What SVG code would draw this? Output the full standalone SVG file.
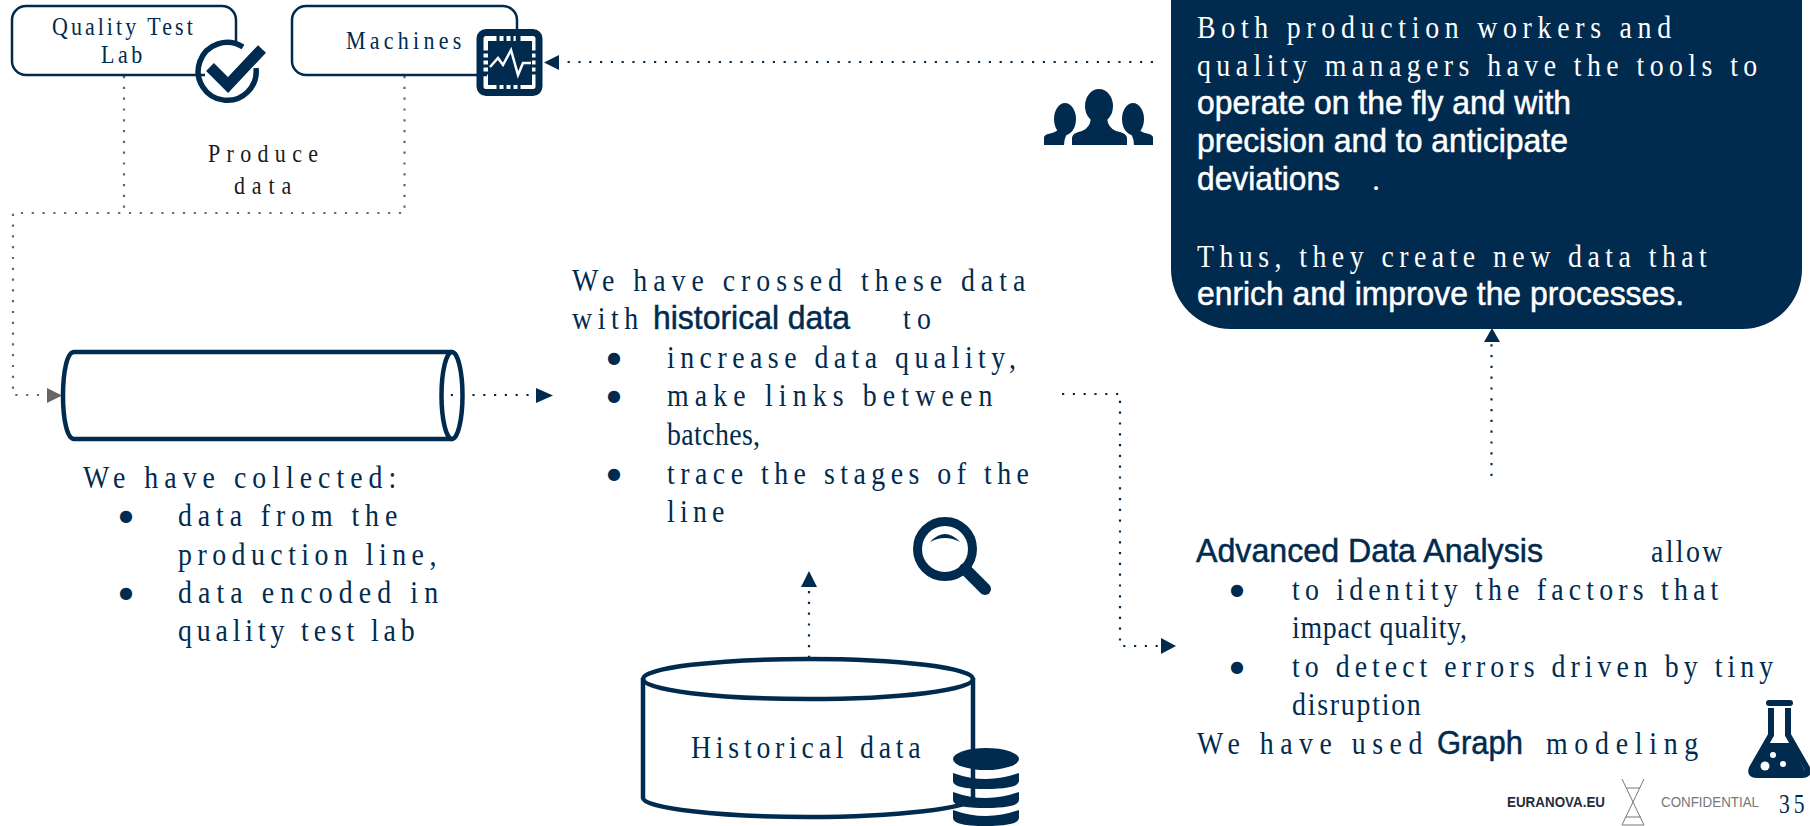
<svg xmlns="http://www.w3.org/2000/svg" width="1810" height="826" viewBox="0 0 1810 826">
<style>
text{font-family:"Liberation Serif","Times New Roman",serif;font-size:32px;fill:#002b4f}
.s{font-size:25px}
.k{fill:#1a1a1a}
.w{fill:#fff}
.b{font-family:"Liberation Sans",Arial,sans-serif;font-size:33px;stroke:#002b4f;stroke-width:.5}
.bw{font-family:"Liberation Sans",Arial,sans-serif;font-size:33px;fill:#fff;stroke:#fff;stroke-width:.5}
.d{font-family:"DejaVu Sans",sans-serif;font-size:16px;text-anchor:middle}
.line{fill:none;stroke:#002b4f;stroke-width:2.5}
.thick{fill:none;stroke:#002b4f;stroke-width:4.500}
.dark{fill:#002b4f}
.dots{fill:none;stroke:#002b4f;stroke-width:2.2;stroke-dasharray:2.2 8.6}
.gdots{fill:none;stroke:#666;stroke-width:2.2;stroke-dasharray:2.2 8.6}
</style>
<g id="connectors">
<path class="gdots" d="M124 76V213"/>
<path class="gdots" d="M404.500 76V213H13V395H46"/>
<path class="dots" d="M440 395H534"/>
<path class="dots" d="M1153 62H560"/>
<path class="dots" d="M809 658V590"/>
<path class="dots" d="M1062 394H1120V646H1160"/>
<path class="dots" d="M1491.500 476V344"/>
<polygon points="47,388 62,395.500 47,403" fill="#666"/>
<polygon class="dark" points="536,388 553,395.500 536,403"/>
<polygon class="dark" points="559,55 544,62.500 559,70"/>
<polygon class="dark" points="801,587 809,571 817,587"/>
<polygon class="dark" points="1161,638 1176,646 1161,654"/>
<polygon class="dark" points="1484,342 1492,328 1500,342"/>
</g>
<g id="quality-test-lab">
<path class="line" d="M205 75H26A14 14 0 0 1 12 61V20A14 14 0 0 1 26 6H222A14 14 0 0 1 236 20V45"/>
<text class="s" transform="matrix(.88 0 0 1 52 35)" textLength="160">Quality Test</text>
<text class="s" transform="matrix(.88 0 0 1 101 63)" textLength="47">Lab</text>
<path d="M243 47A29 29 0 1 0 256 68" fill="none" stroke="#002b4f" stroke-width="5.500"/>
<path d="M210 67L228 85L262 49" fill="none" stroke="#002b4f" stroke-width="11"/>
</g>
<g id="machines">
<rect x="480" y="32.500" width="59" height="60" rx="6" fill="#fff" stroke="#002b4f" stroke-width="7"/>
<path d="M483 52h6M483 59h6M483 66h6M483 73h6M536 52h-5M536 59h-5M536 66h-5M536 73h-5M498 36v6M505 36v6M512 36v6M519 36v6M498 89v-6M505 89v-6M512 89v-6M519 89v-6" stroke="#002b4f" stroke-width="3" fill="none"/>
<rect class="dark" x="488" y="41" width="44" height="44"/>
<polyline points="490,67 498,58 503,65 511,50 518,75 523,63 531,63" fill="none" stroke="#fff" stroke-width="2.500"/>
<path class="line" d="M487 75H306A14 14 0 0 1 292 61V20A14 14 0 0 1 306 6H503A14 14 0 0 1 517 20V42"/>
<text class="s" transform="matrix(.88 0 0 1 346 49)" textLength="131">Machines</text>
</g>
<g id="produce-data">
<text class="s k" transform="matrix(.88 0 0 1 208 162)" textLength="125">Produce</text>
<text class="s k" transform="matrix(.88 0 0 1 234 194)" textLength="65">data</text>
</g>
<g id="pipe">
<path class="thick" d="M452 352H74C67 352 63 372 63 395.500S67 439 74 439H452"/>
<ellipse class="thick" cx="452" cy="395.500" rx="10.500" ry="43.500"/>
</g>
<g id="collected">
<text transform="matrix(.87 0 0 1 83 488)" textLength="360">We have collected:</text>
<text class="d" x="126" y="521">●</text>
<text transform="matrix(.87 0 0 1 178 526)" textLength="252">data from the</text>
<text transform="matrix(.87 0 0 1 178 565)" textLength="297">production line,</text>
<text class="d" x="126" y="598">●</text>
<text transform="matrix(.87 0 0 1 178 603)" textLength="299">data encoded in</text>
<text transform="matrix(.87 0 0 1 178 641)" textLength="272">quality test lab</text>
</g>
<g id="crossed">
<text transform="matrix(.87 0 0 1 572 291)" textLength="521">We have crossed these data</text>
<text transform="matrix(.87 0 0 1 572 329)" textLength="76">with</text>
<text class="b" x="653" y="329" textLength="197" lengthAdjust="spacingAndGlyphs">historical data</text>
<text transform="matrix(.87 0 0 1 903 329)" textLength="32">to</text>
<text class="d" x="614" y="363">●</text>
<text transform="matrix(.87 0 0 1 667 368)" textLength="401">increase data quality,</text>
<text class="d" x="614" y="401">●</text>
<text transform="matrix(.87 0 0 1 667 406)" textLength="374">make links between</text>
<text transform="matrix(.87 0 0 1 667 445)" textLength="107">batches,</text>
<text class="d" x="614" y="479">●</text>
<text transform="matrix(.87 0 0 1 667 484)" textLength="416">trace the stages of the</text>
<text transform="matrix(.87 0 0 1 667 522)" textLength="66">line</text>
</g>
<g id="magnifier">
<circle cx="945" cy="549" r="27.500" fill="none" stroke="#002b4f" stroke-width="9"/>
<path d="M965 569L985 589" stroke="#002b4f" stroke-width="12" stroke-linecap="round"/>
<path d="M930 542Q945 526 960 542Q945 534 930 542Z" class="dark"/>
</g>
<g id="historical-data">
<path class="thick" d="M643 678V798C643 808 720 817 808 817S973 808 973 798V678"/>
<ellipse class="thick" cx="808" cy="679" rx="165" ry="20"/>
<text transform="matrix(.87 0 0 1 691 758)" textLength="264">Historical data</text>
<g class="dark">
<ellipse cx="986" cy="759" rx="33" ry="11"/>
<path d="M953 773Q986 785 1019 773V781Q1019 789 986 789T953 781Z"/>
<path d="M953 792Q986 804 1019 792V800Q1019 808 986 808T953 800Z"/>
<path d="M953 810Q986 822 1019 810V818Q1019 826 986 826T953 818Z"/>
</g>
</g>
<g id="summary-box">
<rect class="dark" x="1171" y="-60" width="631" height="389" rx="60"/>
<text class="w" transform="matrix(.87 0 0 1 1197 38)" textLength="545">Both production workers and</text>
<text class="w" transform="matrix(.87 0 0 1 1197 76)" textLength="644">quality managers have the tools to</text>
<text class="bw" x="1197" y="114" textLength="374" lengthAdjust="spacingAndGlyphs">operate on the fly and with</text>
<text class="bw" x="1197" y="152" textLength="371" lengthAdjust="spacingAndGlyphs">precision and to anticipate</text>
<text class="bw" x="1197" y="190" textLength="143" lengthAdjust="spacingAndGlyphs">deviations</text>
<text class="w" x="1372" y="190">.</text>
<text class="w" transform="matrix(.87 0 0 1 1197 267)" textLength="586">Thus, they create new data that</text>
<text class="bw" x="1197" y="305" textLength="487" lengthAdjust="spacingAndGlyphs">enrich and improve the processes.</text>
</g>
<g id="people" class="dark">
<ellipse cx="1099" cy="106" rx="14" ry="17"/>
<path d="M1072 145V138Q1072 133 1082 131Q1090 128 1091 118H1107Q1108 128 1116 131Q1127 133 1127 138V145Z"/>
<ellipse cx="1065" cy="119" rx="11" ry="16"/>
<path d="M1044 145V137Q1045 134 1052 133Q1058 131 1059 128H1071L1071 130Q1064 135 1064 145Z"/>
<ellipse cx="1133" cy="119" rx="11" ry="16"/>
<path d="M1153 145V137Q1152 134 1145 133Q1139 131 1138 128H1127L1127 130Q1134 135 1134 145Z"/>
</g>
<g id="analysis">
<text class="b" x="1196" y="562" textLength="347" lengthAdjust="spacingAndGlyphs">Advanced Data Analysis</text>
<text transform="matrix(.87 0 0 1 1651 562)" textLength="82">allow</text>
<text class="d" x="1237" y="595">●</text>
<text transform="matrix(.87 0 0 1 1292 600)" textLength="490">to identity the factors that</text>
<text transform="matrix(.87 0 0 1 1292 638)" textLength="201">impact quality,</text>
<text class="d" x="1237" y="672">●</text>
<text transform="matrix(.87 0 0 1 1292 677)" textLength="553">to detect errors driven by tiny</text>
<text transform="matrix(.87 0 0 1 1292 715)" textLength="148">disruption</text>
<text transform="matrix(.87 0 0 1 1197 754)" textLength="259">We have used</text>
<text class="b" x="1437" y="754" textLength="86" lengthAdjust="spacingAndGlyphs">Graph</text>
<text transform="matrix(.87 0 0 1 1546 754)" textLength="175">modeling</text>
</g>
<g id="flask">
<rect class="dark" x="1766" y="700" width="27" height="6" rx="3"/>
<path d="M1771 708V735L1752 768Q1749 775 1757 775H1802Q1810 775 1807 768L1788 735V708" fill="none" stroke="#002b4f" stroke-width="6"/>
<path class="dark" d="M1766 743H1791L1807 775H1752Z"/>
<circle cx="1765" cy="766" r="4.500" fill="#fff"/>
<circle cx="1773" cy="755" r="3" fill="#fff"/>
<circle cx="1783" cy="764" r="3" fill="#fff"/>
</g>
<g id="footer">
<text x="1507" y="807" textLength="98" lengthAdjust="spacingAndGlyphs" style="font-family:'Liberation Sans',sans-serif;font-size:15px;font-weight:bold;fill:#1f2f3f">EURANOVA.EU</text>
<path d="M1622 779L1644 825M1644 779L1622 825M1627 788H1640M1626 817H1641M1622 825H1644" fill="none" stroke="#777" stroke-width="1"/>
<text x="1661" y="807" textLength="98" lengthAdjust="spacingAndGlyphs" style="font-family:'Liberation Sans',sans-serif;font-size:15px;fill:#777">CONFIDENTIAL</text>
<text transform="matrix(.8 0 0 1 1779 813)" textLength="32" style="font-size:27px">35</text>
</g>
</svg>
